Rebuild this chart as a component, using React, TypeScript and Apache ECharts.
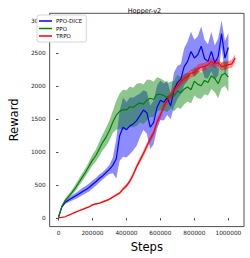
import React, { useEffect, useRef } from "react";
import * as echarts from "echarts";

// steps in thousands
const stepsK = [
  0, 20, 40, 60, 80, 100, 120, 140, 160, 180, 200, 220, 240, 260, 280, 300, 320, 340, 360, 380,
  400, 420, 440, 460, 480, 500, 520, 540, 560, 580, 600, 620, 640, 660, 680, 700, 720, 740, 760,
  780, 800, 820, 840, 860, 880, 900, 920, 940, 960, 980, 1000,
];
const trpoStepsK = [...stepsK, 1020, 1040];

const diceMean = [
  10, 170, 240, 275, 305, 335, 365, 400, 430, 465, 510, 550, 600, 640, 690, 740, 800, 900, 1250,
  1380, 1340, 1400, 1430, 1480, 1560, 1640, 1600, 1380, 1450, 1680, 1790, 1760, 1830, 1700, 1950,
  2060, 2110, 2300, 2380, 2530, 2430, 2480, 2610, 2420, 2380, 2530, 2360, 2450, 2800, 2430, 2590,
];
const diceStd = [
  5, 15, 25, 35, 40, 45, 50, 55, 55, 60, 60, 60, 60, 55, 60, 70, 120, 300, 380, 450, 420, 430,
  400, 380, 330, 300, 320, 330, 330, 330, 300, 280, 260, 200, 260, 250, 230, 280, 300, 300, 280,
  280, 300, 290, 260, 300, 260, 280, 200, 260, 220,
];

const ppoMean = [
  15, 180, 270, 330, 390, 460, 540, 620, 700, 790, 880, 950, 1050, 1150, 1230, 1330, 1460, 1560,
  1620, 1650, 1640, 1690, 1680, 1720, 1750, 1730, 1790, 1820, 1800, 1880, 1880, 1860, 1830, 1870,
  1850, 1930, 1900, 1960, 1990, 1950, 2080, 2030, 2010, 2090, 2060, 2160, 2120, 2040, 2170, 2200,
  2140,
];
const ppoStd = [
  5, 20, 25, 30, 40, 50, 55, 60, 60, 70, 80, 90, 110, 120, 140, 150, 170, 220, 270, 300, 300, 310,
  300, 320, 300, 300, 310, 280, 270, 260, 240, 230, 220, 200, 230, 250, 240, 230, 220, 210, 220,
  210, 200, 210, 200, 200, 210, 220, 200, 190, 220,
];

const trpoMean = [
  5, 10, 20, 45, 65, 90, 110, 130, 150, 170, 200, 215, 225, 245, 265, 285, 320, 350, 380, 440,
  490, 560, 660, 780, 880, 980, 1090, 1200, 1290, 1460, 1560, 1700, 1790, 1850, 1940, 2010, 2070,
  2120, 2150, 2200, 2210, 2270, 2290, 2300, 2330, 2380, 2340, 2360, 2300, 2310, 2330, 2340, 2430,
];
const trpoStd = [
  2, 3, 5, 6, 8, 8, 9, 10, 10, 10, 11, 12, 12, 13, 13, 14, 15, 18, 20, 25, 28, 32, 35, 40, 42,
  45, 48, 50, 52, 55, 55, 58, 60, 60, 60, 60, 60, 58, 58, 60, 60, 62, 60, 60, 60, 62, 60, 60, 60,
  60, 60, 62, 60,
];

const xTicks = [0, 200000, 400000, 600000, 800000, 1000000];
const yTicks = [0, 500, 1000, 1500, 2000, 2500, 3000];

const FONT = "DejaVu Sans";

function bandSeries(name: string, xs: number[], mean: number[], std: number[], fill: string) {
  const data = xs.map((x, i) => [x * 1000, mean[i] - std[i], mean[i] + std[i]]);
  return {
    type: "custom",
    name,
    silent: true,
    z: 1,
    data,
    encode: { x: 0, y: [1, 2] },
    renderItem: (params: any, api: any) => {
      if (params.dataIndex !== 0) return null;
      const upper = data.map((d) => api.coord([d[0], d[2]]));
      const lower = data.map((d) => api.coord([d[0], d[1]])).reverse();
      return {
        type: "polygon",
        shape: { points: upper.concat(lower) },
        style: { fill, stroke: "none" },
      };
    },
  };
}

function lineSeries(name: string, xs: number[], mean: number[], color: string) {
  return {
    type: "line",
    name,
    z: 3,
    data: xs.map((x, i) => [x * 1000, mean[i]]),
    symbol: "none",
    showSymbol: false,
    color,
    lineStyle: { width: 1.2, color },
  };
}

export default function App() {
  const ref = useRef<HTMLDivElement>(null);
  useEffect(() => {
    if (!ref.current) return;
    const chart = echarts.init(ref.current, undefined, { renderer: "svg" });
    chart.setOption({
      animation: false,
      title: {
        text: "Hopper-v2",
        left: 139.5,
        top: 2,
        textAlign: "center",
        textStyle: { fontFamily: FONT, fontSize: 6.5, fontWeight: "normal", color: "#000" },
      },
      legend: {
        data: ["PPO-DICE", "PPO", "TRPO"],
        orient: "vertical",
        left: 37,
        top: 15,
        icon: "rect",
        itemWidth: 13,
        itemHeight: 1.5,
        itemGap: 1.5,
        padding: [3, 4, 3, 2],
        backgroundColor: "#fff",
        borderColor: "#ccc",
        borderWidth: 0.8,
        borderRadius: 2,
        textStyle: { fontFamily: FONT, fontSize: 5.5, lineHeight: 6, color: "#000", padding: [0, 0, 0, -1] },
      },
      grid: {
        left: 34.8,
        right: 6,
        top: 13.3,
        bottom: 26.5,
        show: true,
        borderColor: "#222",
        borderWidth: 0.8,
        backgroundColor: "transparent",
      },
      xAxis: {
        type: "value",
        min: -52000,
        max: 1092000,
        name: "Steps",
        nameLocation: "middle",
        nameGap: 10.5,
        nameTextStyle: { fontFamily: FONT, fontSize: 11.5, color: "#000" },
        axisLine: { show: false },
        splitLine: { show: false },
        axisTick: { show: true, length: 2.5, customValues: xTicks, lineStyle: { color: "#222", width: 0.8 } },
        axisLabel: {
          customValues: xTicks,
          formatter: (v: number) => String(v),
          fontFamily: FONT,
          fontSize: 5.8,
          color: "#222",
          margin: 3.5,
        },
      },
      yAxis: {
        type: "value",
        min: -130,
        max: 3110,
        name: "Reward",
        nameLocation: "middle",
        nameGap: 20,
        nameTextStyle: { fontFamily: FONT, fontSize: 11.5, color: "#000" },
        axisLine: { show: false },
        splitLine: { show: false },
        axisTick: { show: true, length: 2.5, customValues: yTicks, lineStyle: { color: "#222", width: 0.8 } },
        axisLabel: {
          customValues: yTicks,
          formatter: (v: number) => String(v),
          fontFamily: FONT,
          fontSize: 5.8,
          color: "#222",
          margin: 4,
        },
      },
      series: [
        bandSeries("PPO-DICE band", stepsK, diceMean, diceStd, "rgba(0,0,255,0.45)"),
        bandSeries("PPO band", stepsK, ppoMean, ppoStd, "rgba(0,128,0,0.45)"),
        bandSeries("TRPO band", trpoStepsK, trpoMean, trpoStd, "rgba(255,0,0,0.42)"),
        lineSeries("PPO-DICE", stepsK, diceMean, "#0000ff"),
        lineSeries("PPO", stepsK, ppoMean, "#008000"),
        lineSeries("TRPO", trpoStepsK, trpoMean, "#ff0000"),
      ],
    });
    return () => chart.dispose();
  }, []);
  return (
    <div
      ref={ref}
      style={{ position: "fixed", left: 0, top: 0, width: 250, height: 258, background: "#fff" }}
    />
  );
}
